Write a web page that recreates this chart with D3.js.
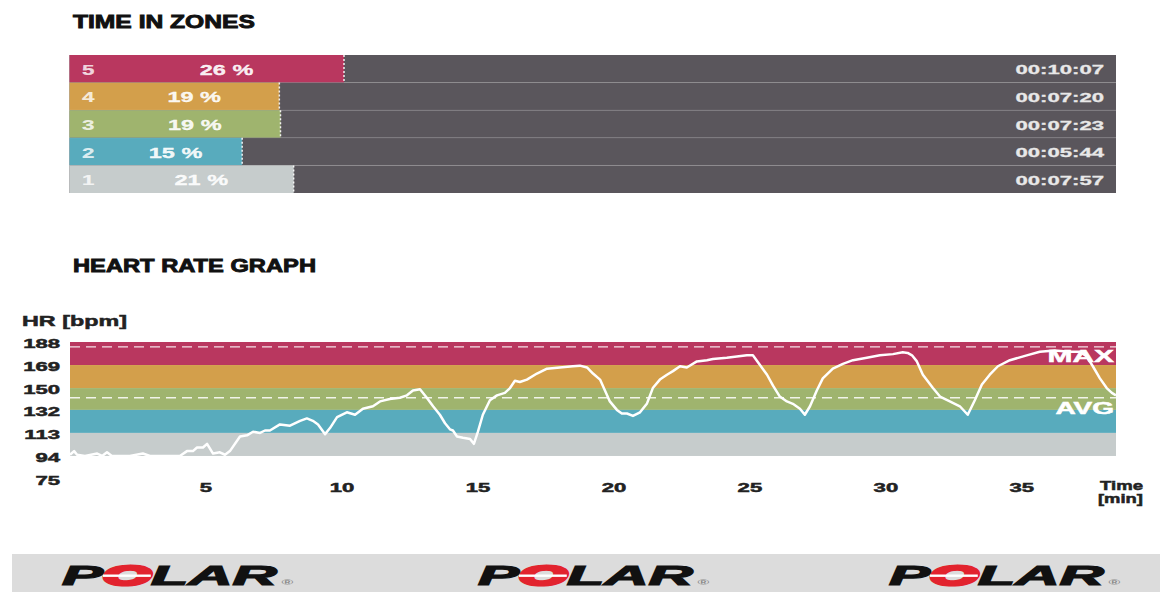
<!DOCTYPE html>
<html><head><meta charset="utf-8">
<script src="https://cdn.jsdelivr.net/npm/d3@7"></script>
<style>
body{margin:0;background:#fff}
svg{display:block}
text{font-family:"Liberation Sans",Arial,sans-serif;font-weight:bold}
</style>
</head><body>
<svg id="c" width="1160" height="592"></svg>
<script>
// ---------- data ----------
const zones = [5, 4, 3, 2, 1];
const zonePercent = [26, 19, 19, 15, 21];
const zoneTime = ["00:10:07", "00:07:20", "00:07:23", "00:05:44", "00:07:57"];
const zoneColors = ["#b9375f", "#d39f4b", "#9fb46e", "#58abbd", "#c6cccc"];
const zoneLimits = [188, 169, 150, 132, 113, 94];
const yTicks = [188, 169, 150, 132, 113, 94, 75];
const xTicks = [5, 10, 15, 20, 25, 30, 35];
const hrMax = 184;
const hrAvg = 142;
const hrTime = [0.0,0.15,0.26,0.55,1.0,1.18,1.36,1.54,2.2,2.68,2.94,4.04,4.3,4.52,4.67,4.89,5.04,5.26,5.51,5.7,5.88,6.25,6.51,6.73,6.99,7.17,7.35,7.72,8.09,8.46,8.71,8.93,9.12,9.38,9.56,9.82,10.18,10.48,10.77,11.14,11.4,11.76,12.13,12.39,12.61,12.87,13.12,13.35,13.6,13.79,13.97,14.08,14.23,14.45,14.71,14.85,15.0,15.18,15.44,15.7,15.99,16.18,16.36,16.54,16.8,17.17,17.54,18.01,18.49,18.75,19.01,19.23,19.49,19.67,19.85,20.11,20.29,20.48,20.7,20.96,21.21,21.43,21.69,21.95,22.17,22.43,22.68,23.05,23.42,23.64,24.15,24.52,24.89,25.11,25.37,25.63,25.85,26.1,26.36,26.58,26.84,27.02,27.21,27.46,27.68,28.05,28.42,28.79,29.3,29.78,30.26,30.62,30.8,30.96,31.14,31.36,31.73,31.99,32.35,32.72,33.01,33.27,33.53,33.82,34.12,34.56,35.18,35.66,36.21,36.76,37.13,37.39,37.61,37.87,38.12,38.31,38.46];
const hrValue = [95,98,95,94,96,94,97,94,94,96,94,94,98,98,101,101,104,96,97,95,98,110,111,114,113,115,115,120,119,123,125,123,120,112,117,126,130,128,133,135,139,141,142,144,148,149,142,135,128,121,116,115,110,109,108,104,114,128,140,144,146,150,156,155,157,162,166,167,168,168.5,167,162,157,148,139,132,129,129,127,130,137,150,157,161,164,168,167,172,173,174,175,176,177,177,169,161,152,143,139,137,133,128,135,148,158,166,170,173,175,177,178,179.5,179,177,172,161,150,143,139,135,128,140,153,161,168,173,177,180,181,180,180,176,168,158,150,146,144];

// ---------- helpers ----------
const svg = d3.select("#c");
const toSec = s => s.split(":").map(Number).reduce((a, b) => a * 60 + b, 0);
const zoneSec = zoneTime.map(toSec);
const totalMin = d3.sum(zoneSec) / 60;

function txt(x, y, s, size, anchor, sx, fill, sw) {
  const g = svg.append("g").attr("transform", `translate(${x},${y}) scale(${sx},1)`);
  g.append("text").attr("text-anchor", anchor).attr("font-size", size).attr("fill", fill)
    .attr("stroke", fill).attr("stroke-width", sw || 0.35).text(s);
  return g;
}
function fit(x, y, s, size, width, fill, sw) {
  const g = svg.append("g");
  const t = g.append("text").attr("font-size", size).attr("fill", fill)
    .attr("stroke", fill).attr("stroke-width", sw || 0.35).text(s);
  const w = t.node().getComputedTextLength();
  g.attr("transform", `translate(${x},${y}) scale(${width / w},1)`);
  return g;
}

// ---------- TIME IN ZONES ----------
fit(73, 28, "TIME IN ZONES", 18.5, 182, "#111", 0.9);

const rowY = d3.scaleBand().domain(zones).range([55, 193]);
const barX = d3.scaleLinear().domain([0, d3.max(zoneSec)]).range([109, 344]);
const left = 69.5, right = 1116;

zones.forEach((z, i) => {
  const y0 = rowY(z), h = rowY.bandwidth();
  const xe = barX(zoneSec[i]);
  svg.append("rect").attr("x", left).attr("y", y0).attr("width", right - left).attr("height", h).attr("fill", "#5a565c");
  svg.append("rect").attr("x", left).attr("y", y0).attr("width", xe - left).attr("height", h).attr("fill", zoneColors[i]);
  svg.append("line").attr("x1", xe).attr("x2", xe).attr("y1", y0).attr("y2", y0 + h)
    .attr("stroke", "#fff").attr("stroke-width", 1.5).attr("stroke-dasharray", "2,2").attr("opacity", 0.9);
  if (i > 0) svg.append("line").attr("x1", left).attr("x2", right).attr("y1", y0).attr("y2", y0)
    .attr("stroke", "#fff").attr("stroke-opacity", 0.12);
  const cy = y0 + h / 2 + 6;
  txt(82, cy, String(z), 14, "start", 1.6, "rgba(255,255,255,0.78)", 0.2);
  txt((barX(0) + xe) / 2, cy, zonePercent[i] + " %", 14, "middle", 1.68, "rgba(255,255,255,0.92)", 0.3);
  txt(1104, cy - 0.5, zoneTime[i], 13, "end", 1.7, "#e8e8e8", 0.3);
});

// ---------- HEART RATE GRAPH ----------
fit(73, 272, "HEART RATE GRAPH", 18.5, 243, "#111", 0.9);
fit(22, 326, "HR [bpm]", 15, 105, "#222", 0.5);

const x = d3.scaleLinear().domain([0, totalMin]).range([70, 1117.5]);
const y = d3.scaleLinear().domain([75, 188]).range([479, 342]);
const cx0 = 70, cx1 = 1116;

for (let i = 0; i < zoneLimits.length - 1; i++) {
  svg.append("rect").attr("x", cx0).attr("width", cx1 - cx0)
    .attr("y", y(zoneLimits[i])).attr("height", y(zoneLimits[i + 1]) - y(zoneLimits[i]))
    .attr("fill", zoneColors[i]);
}

[hrMax, hrAvg].forEach(v => {
  svg.append("line").attr("x1", cx0).attr("x2", cx1).attr("y1", y(v)).attr("y2", y(v))
    .attr("stroke", "#fff").attr("stroke-opacity", 0.85).attr("stroke-width", 1.3).attr("stroke-dasharray", "10,6");
});

const line = d3.line().x((d, i) => x(hrTime[i])).y(d => y(d));
svg.append("path").datum(hrValue).attr("d", line).attr("fill", "none")
  .attr("stroke", "#fff").attr("stroke-width", 2.5).attr("stroke-linejoin", "round");

txt(1114, y(hrMax) + 15, "MAX", 17, "end", 1.76, "#fff", 0.5);
txt(1114, y(hrAvg) + 16, "AVG", 16, "end", 1.75, "#fff", 0.5);

yTicks.forEach(v => txt(60, y(v) + 6, String(v), 13, "end", 1.7, "#222", 0.5));
xTicks.forEach(v => txt(x(v), 492, String(v), 13, "middle", 1.7, "#222", 0.5));
fit(1100, 490, "Time", 13, 43, "#222", 0.5);
fit(1098, 503, "[min]", 13, 45, "#222", 0.5);

// ---------- footer logos ----------
svg.append("rect").attr("x", 12).attr("y", 554).attr("width", 1148).attr("height", 38).attr("fill", "#dcdcdc");
[62, 478, 889].forEach(lx => {
  const g = svg.append("g");
  const t = g.append("text").attr("font-size", 27).attr("font-style", "italic").attr("font-weight", 900)
    .attr("fill", "#111").attr("stroke", "#111").attr("stroke-width", 1.2);
  t.append("tspan").text("P");
  t.append("tspan").text("O").attr("fill", "#e2232e").attr("stroke", "#e2232e").attr("stroke-width", 3);
  t.append("tspan").text("LAR");
  const w = t.node().getComputedTextLength();
  const s0 = t.node().getStartPositionOfChar(1).x, s1 = t.node().getEndPositionOfChar(1).x;
  g.append("rect").attr("x", s0).attr("y", -10.5).attr("width", s1 - s0).attr("height", 2.4).attr("fill", "#fff");
  g.append("text").attr("x", w + 2).attr("y", 0).attr("font-size", 7).attr("fill", "#888").attr("font-weight", "normal").text("®");
  g.attr("transform", `translate(${lx},585) scale(${215 / w},1)`);
});
</script>
</body></html>
